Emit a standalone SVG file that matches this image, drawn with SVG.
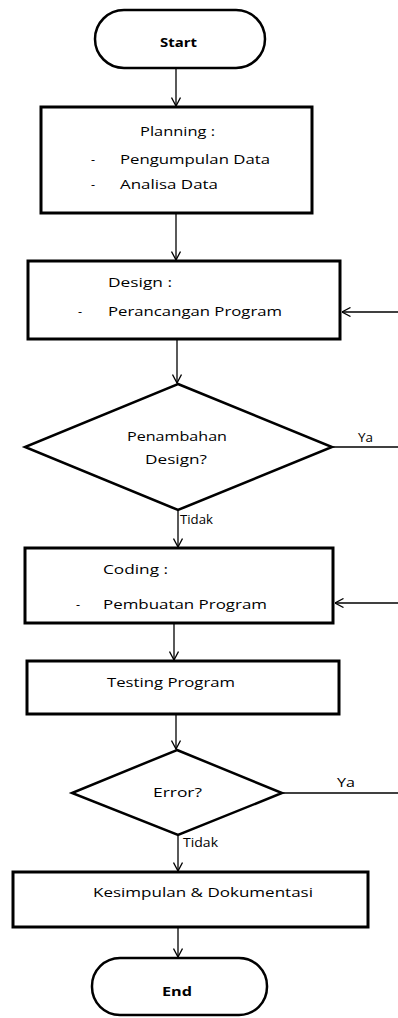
<svg xmlns="http://www.w3.org/2000/svg" width="398" height="1018" viewBox="0 0 398 1018">
<style>
.t{font-family:"Open Sans","Liberation Sans",sans-serif;font-size:12.5px;fill:#000}
.b{font-weight:bold}
.box{fill:#fff;stroke:#000;stroke-width:3}
.pill{fill:#fff;stroke:#000;stroke-width:2.5}
.dia{fill:#fff;stroke:#000;stroke-width:2.5;stroke-linejoin:miter}
.c{fill:none;stroke:#000;stroke-width:1.3}
</style>
<defs>
<marker id="ah" viewBox="0 0 10 10" refX="9.5" refY="5" markerWidth="10" markerHeight="10" markerUnits="userSpaceOnUse" orient="auto">
<path d="M1,0.5 L9.5,5 L1,9.5" fill="none" stroke="#000" stroke-width="1.3"/>
</marker>
</defs>
<rect width="398" height="1018" fill="#fff"/>
<g id="connectors">
<line class="c" x1="176" y1="68" x2="176" y2="106" marker-end="url(#ah)"/>
<line class="c" x1="176" y1="213" x2="176" y2="260" marker-end="url(#ah)"/>
<line class="c" x1="177" y1="339" x2="177" y2="383" marker-end="url(#ah)"/>
<line class="c" x1="178" y1="510" x2="178" y2="547" marker-end="url(#ah)"/>
<line class="c" x1="174" y1="623" x2="174" y2="660" marker-end="url(#ah)"/>
<line class="c" x1="176" y1="714" x2="176" y2="749" marker-end="url(#ah)"/>
<line class="c" x1="178" y1="835" x2="178" y2="871" marker-end="url(#ah)"/>
<line class="c" x1="178" y1="927" x2="178" y2="957" marker-end="url(#ah)"/>
<line class="c" x1="332" y1="447" x2="398" y2="447"/>
<line class="c" x1="398" y1="312" x2="342" y2="312" marker-end="url(#ah)"/>
<line class="c" x1="282" y1="793" x2="398" y2="793"/>
<line class="c" x1="398" y1="603" x2="335" y2="603" marker-end="url(#ah)"/>
<text class="t" x="358" y="442" textLength="15" lengthAdjust="spacingAndGlyphs">Ya</text>
<text class="t" x="180" y="524" textLength="33" lengthAdjust="spacingAndGlyphs">Tidak</text>
<text class="t" x="337" y="787" textLength="18" lengthAdjust="spacingAndGlyphs">Ya</text>
<text class="t" x="183" y="847" textLength="35" lengthAdjust="spacingAndGlyphs">Tidak</text>
</g>
<g id="start">
<rect class="pill" x="95" y="10" width="170" height="58" rx="29"/>
<text class="t b" x="160" y="47" textLength="37" lengthAdjust="spacingAndGlyphs">Start</text>
</g>
<g id="planning">
<rect class="box" x="41" y="107" width="271" height="106"/>
<text class="t" x="140" y="136" textLength="75" lengthAdjust="spacingAndGlyphs">Planning :</text>
<text class="t" x="91" y="164">-</text>
<text class="t" x="120" y="164" textLength="150" lengthAdjust="spacingAndGlyphs">Pengumpulan Data</text>
<text class="t" x="91" y="189">-</text>
<text class="t" x="120" y="189" textLength="98" lengthAdjust="spacingAndGlyphs">Analisa Data</text>
</g>
<g id="design">
<rect class="box" x="28" y="261" width="312" height="78"/>
<text class="t" x="108" y="287" textLength="64" lengthAdjust="spacingAndGlyphs">Design :</text>
<text class="t" x="78" y="316">-</text>
<text class="t" x="108" y="316" textLength="174" lengthAdjust="spacingAndGlyphs">Perancangan Program</text>
</g>
<g id="penambahan">
<polygon class="dia" points="178,384 332,447 178,510 25,447"/>
<text class="t" x="127" y="441" textLength="100" lengthAdjust="spacingAndGlyphs">Penambahan</text>
<text class="t" x="145" y="464" textLength="62" lengthAdjust="spacingAndGlyphs">Design?</text>
</g>
<g id="coding">
<rect class="box" x="25" y="548" width="308" height="75"/>
<text class="t" x="103" y="574" textLength="65" lengthAdjust="spacingAndGlyphs">Coding :</text>
<text class="t" x="76" y="609">-</text>
<text class="t" x="103" y="609" textLength="164" lengthAdjust="spacingAndGlyphs">Pembuatan Program</text>
</g>
<g id="testing">
<rect class="box" x="27" y="661" width="312" height="53"/>
<text class="t" x="107" y="687" textLength="128" lengthAdjust="spacingAndGlyphs">Testing Program</text>
</g>
<g id="error">
<polygon class="dia" points="177,750 282,793 178,835 72,793"/>
<text class="t" x="153" y="797" textLength="49" lengthAdjust="spacingAndGlyphs">Error?</text>
</g>
<g id="kesimpulan">
<rect class="box" x="13" y="872" width="355" height="55"/>
<text class="t" x="93" y="897" textLength="220" lengthAdjust="spacingAndGlyphs">Kesimpulan &amp; Dokumentasi</text>
</g>
<g id="end">
<rect class="pill" x="92" y="958" width="175" height="57" rx="28"/>
<text class="t b" x="162" y="996" textLength="30" lengthAdjust="spacingAndGlyphs">End</text>
</g>
</svg>
